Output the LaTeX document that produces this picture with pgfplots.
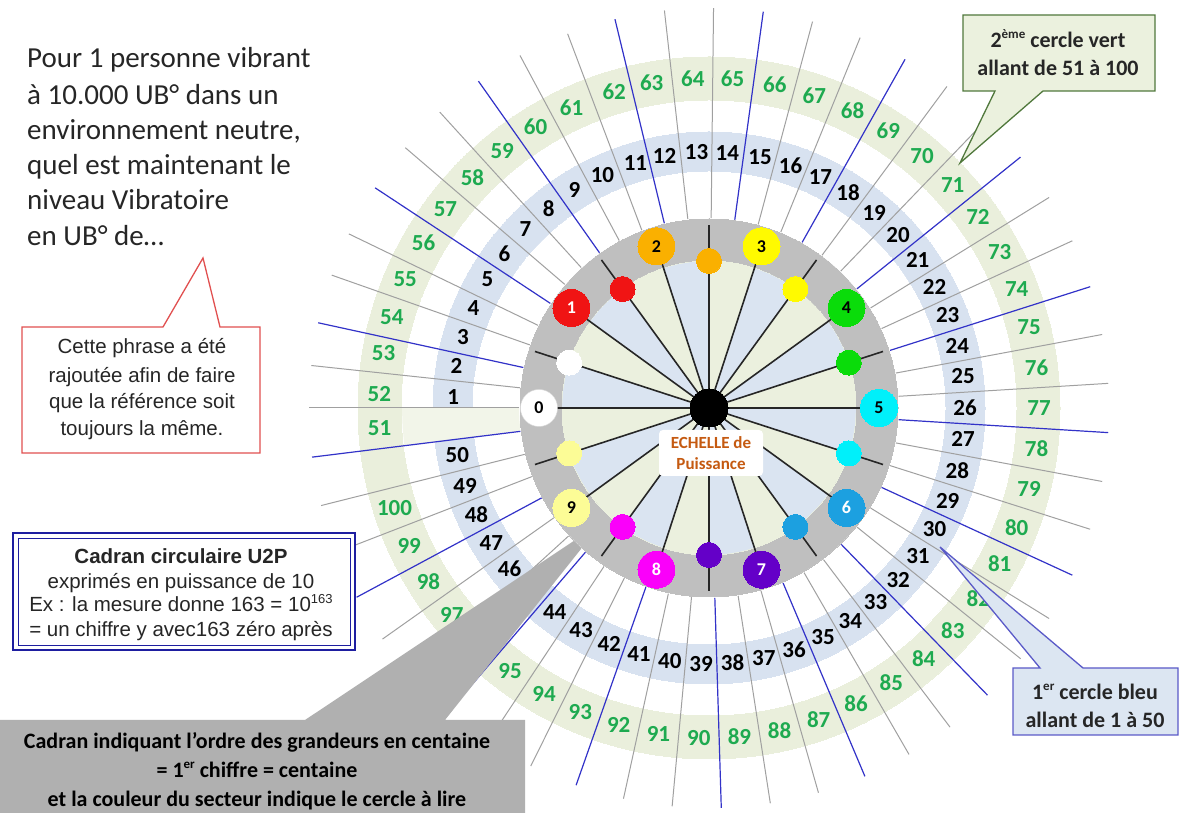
\documentclass[border=0pt]{standalone}
\usepackage{fontspec}
\setmainfont{Carlito}
\newfontfamily\arialf{Liberation Sans}
\usepackage{pgfplots}
\pgfplotsset{compat=1.18}
\definecolor{ringgray}{RGB}{191,191,191}
\definecolor{boxgray}{RGB}{176,176,176}
\definecolor{ingreen}{RGB}{235,240,222}
\definecolor{inblue}{RGB}{218,228,241}
\definecolor{bandblue}{RGB}{216,226,240}
\definecolor{bandgreen}{RGB}{234,239,220}
\definecolor{slotgreen}{RGB}{242,245,233}
\definecolor{lgray}{RGB}{160,160,160}
\definecolor{lblue}{RGB}{50,50,200}
\definecolor{numgreen}{RGB}{30,170,80}
\definecolor{cRed}{RGB}{240,20,20}
\definecolor{cOrange}{RGB}{250,176,0}
\definecolor{cYellow}{RGB}{255,250,0}
\definecolor{cGreen}{RGB}{10,220,10}
\definecolor{cCyan}{RGB}{0,240,250}
\definecolor{cBlue}{RGB}{28,160,224}
\definecolor{cPurple}{RGB}{100,0,200}
\definecolor{cMagenta}{RGB}{250,0,250}
\definecolor{cLYellow}{RGB}{252,252,150}
\definecolor{echelle}{RGB}{197,90,17}
\definecolor{redline}{RGB}{225,80,80}
\definecolor{navytwo}{RGB}{30,30,160}
\definecolor{callgreen}{RGB}{235,241,222}
\definecolor{callgreenline}{RGB}{80,120,60}
\definecolor{callblue}{RGB}{220,230,242}
\definecolor{callblueline}{RGB}{90,90,200}
\definecolor{txt}{RGB}{38,38,38}
% radial lines
\newcommand\gl[1]{\addplot[data cs=polar, draw=lgray, line width=1pt] coordinates {(#1,190) (#1,400)};}
\newcommand\bl[1]{\addplot[data cs=polar, draw=lblue, line width=1.2pt] coordinates {(#1,190) (#1,400)};}
\newcommand\il[2]{\addplot[data cs=polar, draw=black!85, line width=1.6pt] coordinates {(#1,0) (#1,#2)};}
\newcommand\disk[2]{\addplot[color=#2, only marks, mark=*, mark size=#1pt, mark options={fill=#2, draw=#2, line width=0pt}] coordinates {(0,0)};}
\newcommand\dt[4]{\addplot[color=#4, data cs=polar, only marks, mark=*, mark size=#3pt, mark options={fill=#4, draw=#4, line width=0pt}] coordinates {(#1,#2)};}
\newcommand\dg[3]{\node[font=\bfseries\fontsize{18}{18}\selectfont, text=#3] at ([shift={(#1:170pt)}]axis cs:0,0) {#2};}
\newcommand\sect[4]{\addplot[data cs=polar, fill=inblue, draw=none] coordinates {(0,0) (#1,147) (#2,147) (#3,147) (#4,147)} -- cycle;}
\newcommand\bn[2]{\node[font=\bfseries\fontsize{23}{23}\selectfont, text=black] at ([shift={(#1:256pt)}]axis cs:0,0) {#2};}
\newcommand\gn[2]{\node[font=\bfseries\fontsize{23}{23}\selectfont, text=numgreen] at ([shift={(#1:330pt)}]axis cs:0,0) {#2};}
\newcommand\sups[2]{\raisebox{0.42em}{\fontsize{#1}{#1}\selectfont #2}}
\begin{document}
\begin{tikzpicture}
\begin{axis}[x=1pt, y=1pt, xmin=-709, xmax=470, ymin=-405, ymax=408,
  hide axis, clip=false, clip marker paths=true]
% bands
\disk{351}{bandgreen}
\disk{307}{white}
\disk{276}{bandblue}
\disk{236}{white}
\addplot[data cs=polar, fill=slotgreen, draw=none] coordinates {(180,190) (180,307) (183.53,307) (187.06,307) (187.06,190) (183.53,190)} -- cycle;
% dial
\disk{189}{ringgray}
\disk{147}{ingreen}
\sect{180}{174}{168}{162}
\sect{144}{138}{132}{126}
\sect{108}{102}{96}{90}
\sect{72}{66}{60}{54}
\sect{36}{30}{24}{18}
\sect{0}{-6}{-12}{-18}
\sect{-36}{-42}{-48}{-54}
\sect{-72}{-78}{-84}{-90}
\sect{-108}{-114}{-120}{-126}
\sect{-144}{-150}{-156}{-162}
% outer radial lines
\gl{180}\gl{173.9}\gl{160.6}\gl{154.2}\gl{139.4}\gl{132.3}\gl{118.2}\gl{110.7}
\gl{96.4}\gl{89.35}\gl{75.0}\gl{67.8}\gl{53.5}\gl{46.1}\gl{31.76}\gl{24.71}
\gl{10.59}\gl{3.53}\gl{-10.59}\gl{-17.65}\gl{-31.76}\gl{-38.82}\gl{-52.94}\gl{-60}
\gl{-74.12}\gl{-81.18}\gl{-95.29}\gl{-102.35}\gl{-116.47}\gl{-123.53}\gl{-137.65}\gl{-144.71}
\gl{-158.82}\gl{-165.88}
\bl{167.7}\bl{146.6}\bl{125.2}\bl{103.6}\bl{82.2}\bl{60.65}\bl{38.85}\bl{17.65}
\bl{-3.53}\bl{-24.71}\bl{-45.88}\bl{-67.06}\bl{-88.24}\bl{-109.41}\bl{-130.59}\bl{-151.76}\bl{-172.94}
% inner lines
\il{180}{165}\il{144}{165}\il{108}{165}\il{72}{165}\il{36}{165}
\il{0}{165}\il{-36}{165}\il{-72}{165}\il{-108}{165}\il{-144}{165}
\il{162}{183}\il{126}{183}\il{90}{183}\il{54}{183}\il{18}{183}
\il{-18}{183}\il{-54}{183}\il{-90}{183}\il{-126}{183}\il{-162}{183}
\disk{19}{black}
% small dots
\dt{162}{147}{12.5}{white}
\dt{126}{147}{12.5}{cRed}
\dt{90}{147}{12.5}{cOrange}
\dt{54}{147}{12.5}{cYellow}
\dt{18}{147}{12.5}{cGreen}
\dt{-18}{147}{12.5}{cCyan}
\dt{-54}{147}{12.5}{cBlue}
\dt{-90}{147}{12.5}{cPurple}
\dt{-126}{147}{12.5}{cMagenta}
\dt{-162}{147}{12.5}{cLYellow}
% big dots
\addplot[data cs=polar, only marks, mark=*, mark size=18.5pt, mark options={fill=white, draw=black!15}] coordinates {(180,170)};
\dt{144}{170}{18.5}{cRed}
\dt{108}{170}{18.5}{cOrange}
\dt{72}{170}{18.5}{cYellow}
\dt{36}{170}{18.5}{cGreen}
\dt{0}{170}{18.5}{cCyan}
\dt{-36}{170}{18.5}{cBlue}
\dt{-72}{170}{18.5}{cPurple}
\dt{-108}{170}{18.5}{cMagenta}
\dt{-144}{170}{18.5}{cLYellow}
\dg{180}{0}{black}\dg{144}{1}{white}\dg{108}{2}{black}\dg{72}{3}{black}\dg{36}{4}{black}
\dg{0}{5}{black}\dg{-36}{6}{white}\dg{-72}{7}{white}\dg{-108}{8}{white}\dg{-144}{9}{black}
\node[fill=white, rounded corners=4pt, minimum width=104pt, minimum height=46pt, align=center,
  font=\bfseries\fontsize{17}{20.5}\selectfont, text=echelle] at (axis cs:2,-45) {ECHELLE de\\Puissance};
% blue ring numbers
\bn{177.6}{1}\bn{170.5}{2}\bn{164.0}{3}\bn{157.0}{4}\bn{149.9}{5}\bn{143.0}{6}\bn{135.8}{7}
\bn{128.8}{8}\bn{121.7}{9}\bn{114.6}{10}\bn{106.7}{11}\bn{100.0}{12}\bn{92.8}{13}\bn{85.9}{14}
\bn{78.5}{15}\bn{71.4}{16}\bn{64.2}{17}\bn{57.1}{18}\bn{49.8}{19}\bn{42.4}{20}\bn{35.4}{21}
\bn{28.24}{22}\bn{21.18}{23}\bn{14.12}{24}\bn{7.06}{25}\bn{0}{26}\bn{-7.06}{27}\bn{-14.12}{28}
\bn{-21.18}{29}\bn{-28.24}{30}\bn{-35.29}{31}\bn{-42.35}{32}\bn{-49.41}{33}\bn{-56.47}{34}
\bn{-63.53}{35}\bn{-70.59}{36}\bn{-77.65}{37}\bn{-84.71}{38}\bn{-91.76}{39}\bn{-98.82}{40}
\bn{-105.88}{41}\bn{-112.94}{42}\bn{-120}{43}\bn{-127.06}{44}\bn{-134.12}{45}\bn{-141.18}{46}
\bn{-148.24}{47}\bn{-155.29}{48}\bn{-162.35}{49}\bn{-169.41}{50}
% green ring numbers
\gn{183.53}{51}\gn{177.6}{52}\gn{170.5}{53}\gn{164.0}{54}\gn{157.0}{55}\gn{149.9}{56}\gn{143.0}{57}
\gn{135.8}{58}\gn{128.8}{59}\gn{121.7}{60}\gn{114.6}{61}\gn{106.7}{62}\gn{100.0}{63}\gn{92.8}{64}
\gn{85.9}{65}\gn{78.5}{66}\gn{71.4}{67}\gn{64.2}{68}\gn{57.1}{69}\gn{49.8}{70}\gn{42.4}{71}
\gn{35.4}{72}\gn{28.24}{73}\gn{21.18}{74}\gn{14.12}{75}\gn{7.06}{76}\gn{0}{77}\gn{-7.06}{78}
\gn{-14.12}{79}\gn{-21.18}{80}\gn{-28.24}{81}\gn{-35.29}{82}\gn{-42.35}{83}\gn{-49.41}{84}
\gn{-56.47}{85}\gn{-63.53}{86}\gn{-70.59}{87}\gn{-77.65}{88}\gn{-84.71}{89}\gn{-91.76}{90}
\gn{-98.82}{91}\gn{-105.88}{92}\gn{-112.94}{93}\gn{-120}{94}\gn{-127.06}{95}\gn{-134.12}{96}
\gn{-141.18}{97}\gn{-148.24}{98}\gn{-155.29}{99}\gn{-162.35}{100}
% gray callout (box + wedge)
\addplot[fill=boxgray, draw=none] coordinates {(-709,-312) (-404,-312) (-135.3,-133) (-127.6,-140.5) (-264,-312) (-184,-312) (-184,-405) (-709,-405)} -- cycle;
\node[anchor=base, inner sep=0, font=\bfseries\fontsize{22}{22}\selectfont, text=black] at (axis cs:-452,-341) {Cadran indiquant l’ordre des grandeurs en centaine};
\node[anchor=base, inner sep=0, font=\bfseries\fontsize{22}{22}\selectfont, text=black] at (axis cs:-452,-370) {= 1\sups{13}{er} chiffre = centaine};
\node[anchor=base, inner sep=0, font=\bfseries\fontsize{22}{22}\selectfont, text=black] at (axis cs:-452,-399) {et la couleur du secteur indique le cercle à lire};
% blue double box
\addplot[fill=white, draw=navytwo, line width=2.5pt] coordinates {(-696,-125) (-354,-125) (-354,-242) (-696,-242)} -- cycle;
\addplot[draw=navytwo, line width=0.9pt] coordinates {(-691,-130) (-359,-130) (-359,-237) (-691,-237)} -- cycle;
\node[anchor=base, inner sep=0, font=\arialf\bfseries\fontsize{20.5}{20.5}\selectfont, text=txt] at (axis cs:-528,-156) {Cadran circulaire U2P};
\node[anchor=base, inner sep=0, font=\arialf\fontsize{20.5}{20.5}\selectfont, text=txt] at (axis cs:-528,-181) {exprimés en puissance de 10};
\node[anchor=base, inner sep=0, font=\arialf\fontsize{20.5}{20.5}\selectfont, text=txt] at (axis cs:-528,-204) {Ex : la mesure donne 163 = 10\sups{13}{163}};
\node[anchor=base, inner sep=0, font=\arialf\fontsize{20.5}{20.5}\selectfont, text=txt] at (axis cs:-528,-229) {= un chiffre y avec163 zéro après};
% red callout
\addplot[fill=white, draw=redline, line width=1.3pt] coordinates {(-687,81) (-546,81) (-506,150) (-489,81) (-449,81) (-449,-45) (-687,-45)} -- cycle;
\node[anchor=base, inner sep=0, font=\arialf\fontsize{20.5}{20.5}\selectfont, text=txt] at (axis cs:-567,54) {Cette phrase a été};
\node[anchor=base, inner sep=0, font=\arialf\fontsize{20.5}{20.5}\selectfont, text=txt] at (axis cs:-567,25) {rajoutée afin de faire};
\node[anchor=base, inner sep=0, font=\arialf\fontsize{20.5}{20.5}\selectfont, text=txt] at (axis cs:-567,-1) {que la référence soit};
\node[anchor=base, inner sep=0, font=\arialf\fontsize{20.5}{20.5}\selectfont, text=txt] at (axis cs:-567,-28) {toujours la même.};
% green callout
\addplot[fill=callgreen, draw=callgreenline, line width=1.3pt] coordinates {(254,393) (446,393) (446,317) (334,317) (251,245) (286,317) (254,317)} -- cycle;
\node[anchor=base, inner sep=0, font=\bfseries\fontsize{22}{22}\selectfont, text=txt] at (axis cs:349,360) {2\sups{13}{ème} cercle vert};
\node[anchor=base, inner sep=0, font=\bfseries\fontsize{22}{22}\selectfont, text=txt] at (axis cs:349,332) {allant de 51 à 100};
% blue callout
\addplot[fill=callblue, draw=callblueline, line width=1.3pt] coordinates {(304,-260) (331,-260) (231,-139) (374,-260) (469,-260) (469,-327) (304,-327)} -- cycle;
\node[anchor=base, inner sep=0, font=\bfseries\fontsize{22}{22}\selectfont, text=txt] at (axis cs:386,-292) {1\sups{13}{er} cercle bleu};
\node[anchor=base, inner sep=0, font=\bfseries\fontsize{22}{22}\selectfont, text=txt] at (axis cs:386,-320) {allant de 1 à 50};
% top-left text
\node[anchor=base west, inner sep=0, font=\fontsize{29}{29}\selectfont, text=txt] at (axis cs:-682,340) {Pour 1 personne vibrant};
\node[anchor=base west, inner sep=0, font=\fontsize{29}{29}\selectfont, text=txt] at (axis cs:-682,303) {à 10.000 UB° dans un};
\node[anchor=base west, inner sep=0, font=\fontsize{29}{29}\selectfont, text=txt] at (axis cs:-682,268) {environnement neutre,};
\node[anchor=base west, inner sep=0, font=\fontsize{29}{29}\selectfont, text=txt] at (axis cs:-682,233) {quel est maintenant le};
\node[anchor=base west, inner sep=0, font=\fontsize{29}{29}\selectfont, text=txt] at (axis cs:-682,198) {niveau Vibratoire};
\node[anchor=base west, inner sep=0, font=\fontsize{29}{29}\selectfont, text=txt] at (axis cs:-682,162) {en UB° de…};
\end{axis}
\pgfresetboundingbox
\path[use as bounding box] (current axis.south west) rectangle (current axis.north east);
\end{tikzpicture}
\end{document}
